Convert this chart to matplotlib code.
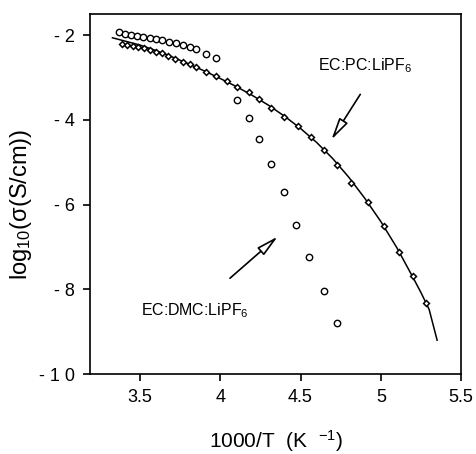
import matplotlib.pyplot as plt

plt.rcParams['font.family'] = ['Liberation Sans', 'DejaVu Sans']
plt.rcParams['mathtext.fontset'] = 'custom'
plt.rcParams['mathtext.rm'] = 'Liberation Sans'
plt.rcParams['mathtext.it'] = 'Liberation Sans'

# EC:DMC:LiPF6 (open circles)
dmc_x = [3.371, 3.406, 3.446, 3.485, 3.523, 3.563, 3.600, 3.638, 3.679, 3.723,
         3.767, 3.810, 3.848, 3.915, 3.977, 4.106, 4.179, 4.242, 4.317, 4.398,
         4.469, 4.552, 4.644, 4.727]
dmc_y = [-1.93, -1.96, -1.99, -2.01, -2.03, -2.06, -2.09, -2.12, -2.15, -2.18,
         -2.22, -2.28, -2.32, -2.44, -2.53, -3.54, -3.95, -4.44, -5.03, -5.70,
         -6.47, -7.23, -8.04, -8.80]

# EC:PC:LiPF6 (small diamonds)
pc_x = [3.392, 3.423, 3.458, 3.489, 3.527, 3.563, 3.600, 3.638, 3.677, 3.719,
        3.767, 3.814, 3.852, 3.913, 3.977, 4.042, 4.106, 4.181, 4.244, 4.319,
        4.398, 4.486, 4.563, 4.644, 4.727, 4.815, 4.917, 5.017, 5.115, 5.198,
        5.279]
pc_y = [-2.20, -2.23, -2.25, -2.28, -2.31, -2.35, -2.40, -2.43, -2.50, -2.56,
        -2.62, -2.69, -2.75, -2.87, -2.97, -3.08, -3.22, -3.35, -3.50, -3.71,
        -3.92, -4.14, -4.40, -4.70, -5.07, -5.49, -5.94, -6.50, -7.12, -7.68,
        -8.31]

# fitted curve through EC:PC data
fit_x = [3.33, 3.4, 3.5, 3.6, 3.7, 3.8, 3.9, 4.0, 4.1, 4.2, 4.3, 4.4, 4.5,
         4.6, 4.7, 4.8, 4.9, 5.0, 5.1, 5.2, 5.25, 5.3, 5.35]
fit_y = [-2.06, -2.13, -2.23, -2.36, -2.51, -2.67, -2.84, -3.02, -3.21, -3.42,
         -3.65, -3.91, -4.20, -4.53, -4.91, -5.35, -5.85, -6.40, -7.02, -7.72,
         -8.08, -8.47, -9.20]

x_ticks = [3.5, 4, 4.5, 5, 5.5]
x_ticklabels = ['3.5', '4', '4.5', '5', '5.5']
y_ticks = [-10, -8, -6, -4, -2]
y_ticklabels = ['- 1 0', '- 8', '- 6', '- 4', '- 2']

fig = plt.figure(figsize=(4.76, 4.54), dpi=100)
ax = fig.add_axes([0.189, 0.176, 0.780, 0.793])

ax.plot(fit_x, fit_y, 'k-', lw=1.1)
ax.plot(pc_x, pc_y, 'D', ms=3.0, mfc='white', mec='black', mew=1.1)
ax.plot(dmc_x, dmc_y, 'o', ms=4.6, mfc='white', mec='black', mew=1.0)

ax.set_xlim(3.19, 5.5)
ax.set_ylim(-10, -1.5)
ax.set_xticks(x_ticks)
ax.set_xticklabels(x_ticklabels)
ax.set_yticks(y_ticks)
ax.set_yticklabels(y_ticklabels)
ax.tick_params(direction='out', length=5, width=1.2, labelsize=13, pad=6)
for s in ax.spines.values():
    s.set_linewidth(1.2)

ax.set_xlabel('1000/T  (K  $^{-1}$)', fontsize=15, labelpad=16)
ax.set_ylabel('log$_{10}$(σ(S/cm))', fontsize=17)
ax.yaxis.set_label_coords(-0.152, 0.472)

ax.text(4.606, -2.71, 'EC:PC:LiPF$_6$', fontsize=11.5, va='center', ha='left')
ax.text(3.51, -8.51, 'EC:DMC:LiPF$_6$', fontsize=11.5, va='center', ha='left')

arrow = dict(arrowstyle='-|>,head_length=1.1,head_width=0.25', fc='white',
             ec='black', lw=1.2, mutation_scale=12)
ax.annotate('', xy=(4.683, -4.52), xytext=(4.881, -3.34), arrowprops=arrow)
ax.annotate('', xy=(4.371, -6.71), xytext=(4.048, -7.78), arrowprops=arrow)

fig.savefig('out.png', dpi=100)
